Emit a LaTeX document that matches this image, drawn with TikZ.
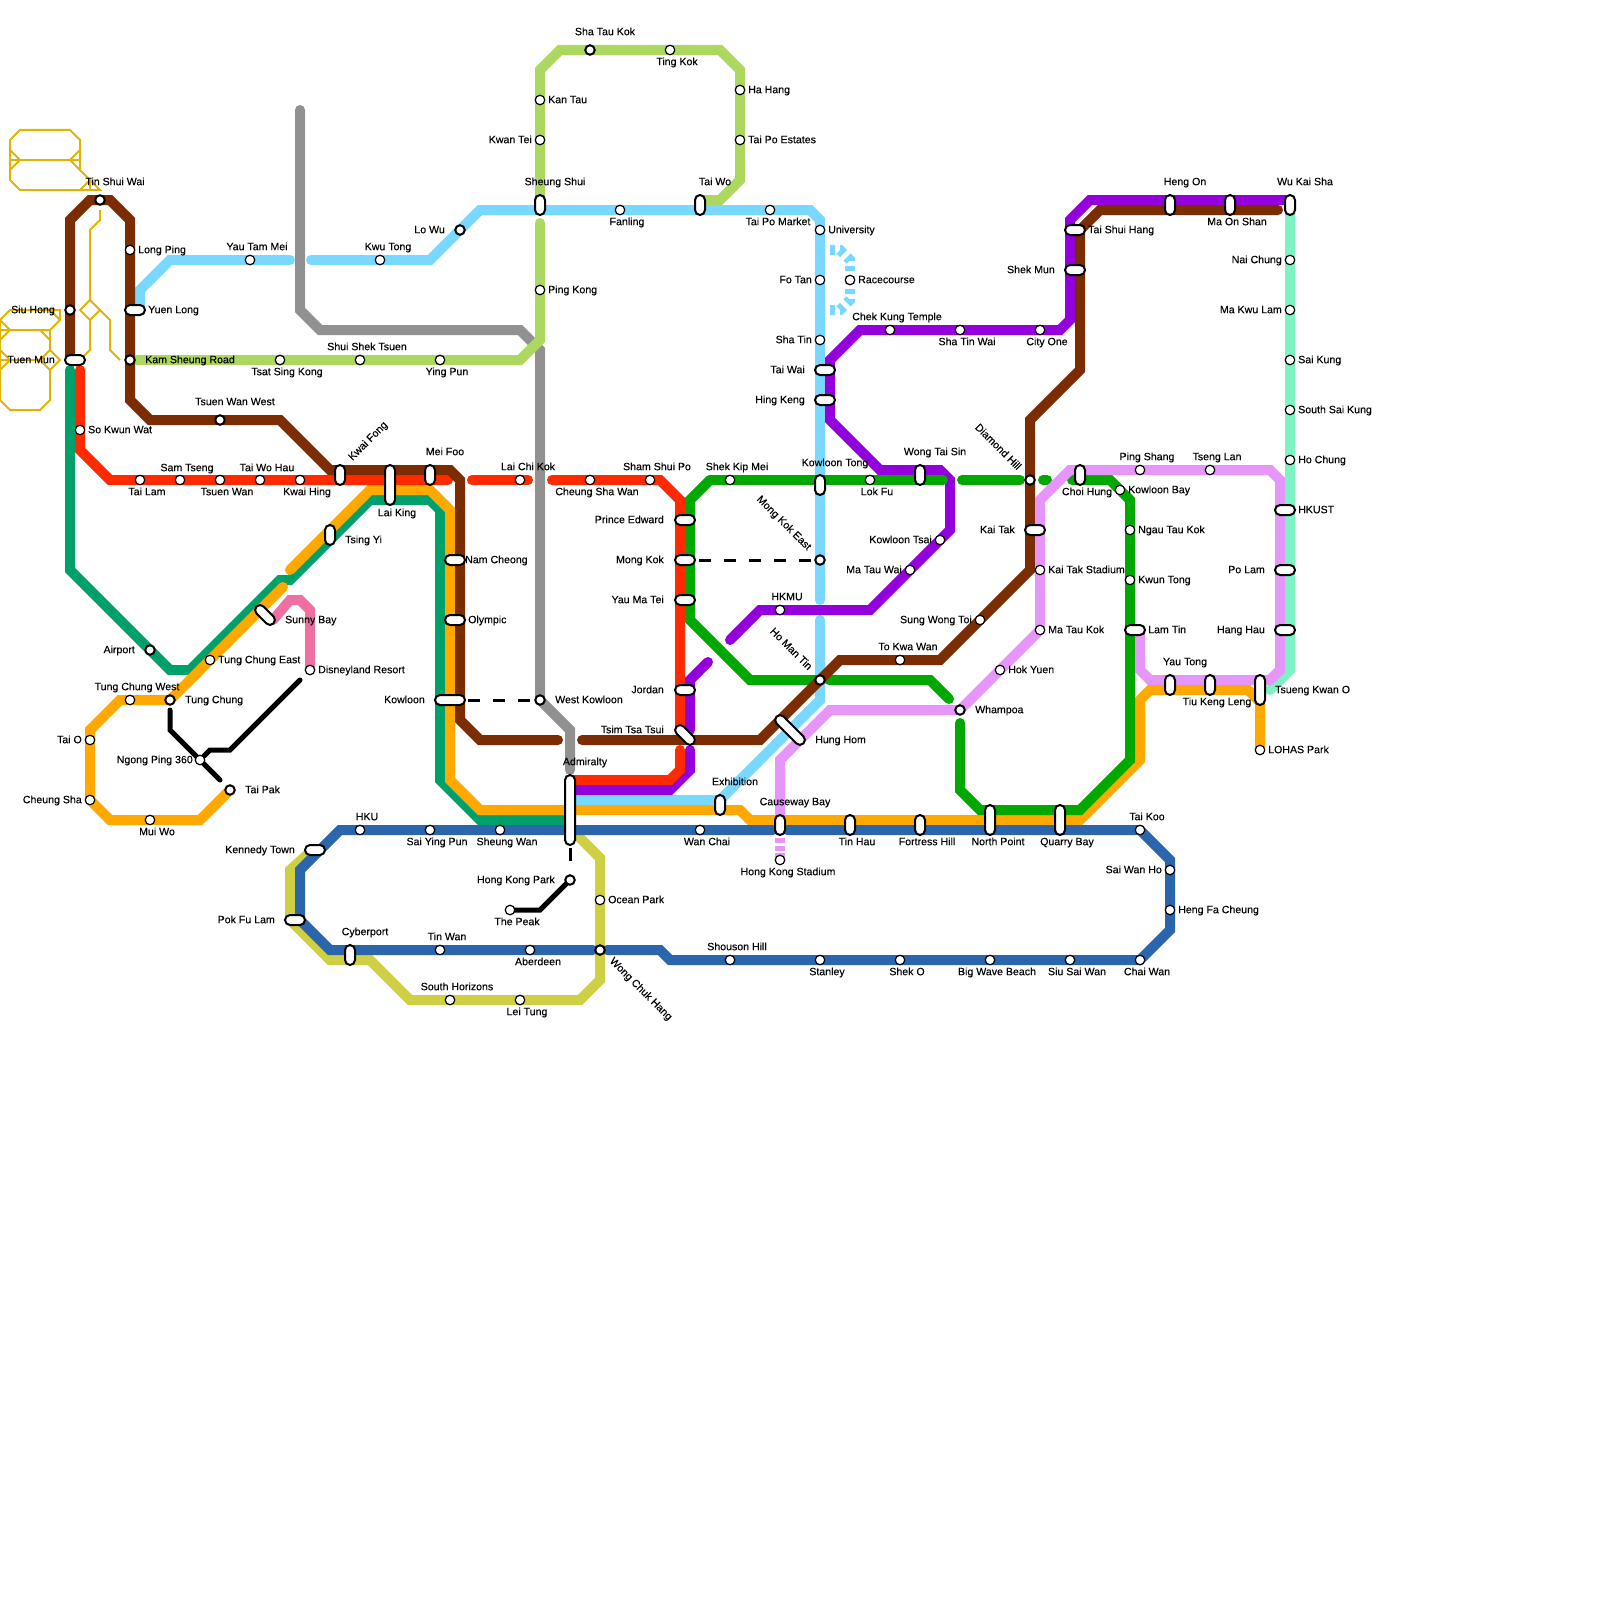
\documentclass[tikz,border=0pt]{standalone}
\usepackage{fontspec}
\usepackage{xcolor}
\usepackage{tikz}
\setmainfont[FakeBold=0.15]{Liberation Sans}
\definecolor{rust}{HTML}{7B2C00}
\definecolor{scarlet}{HTML}{FF2A00}
\definecolor{jade}{HTML}{00A06B}
\definecolor{amber}{HTML}{FFA800}
\definecolor{skyline}{HTML}{78D8FF}
\definecolor{lime}{HTML}{ADD860}
\definecolor{slate}{HTML}{919191}
\definecolor{violet}{HTML}{9400DB}
\definecolor{emerald}{HTML}{00A800}
\definecolor{lilac}{HTML}{E695F8}
\definecolor{mint}{HTML}{7DF3C3}
\definecolor{cobalt}{HTML}{2B65AB}
\definecolor{mustard}{HTML}{CFCF44}
\definecolor{rose}{HTML}{EE70A0}
\definecolor{gold}{HTML}{E0B400}
\tikzset{
  track/.style={line width=10,line cap=round,line join=miter},
  dotted track/.style={line width=10,line join=miter,dash pattern=on 5 off 5},
  thinwire/.style={gold,line width=2,line join=miter},
  cable/.style={black,line width=5,line cap=round,line join=miter},
  walk/.style={black,line width=3,dash pattern=on 12 off 13},
  stn/.style={circle,draw=black,fill=white,inner sep=0,minimum size=9.5,line width=1.2},
  hub/.style={circle,draw=black,fill=white,inner sep=0,minimum size=9.5,line width=2},
  pill/.style={rectangle,draw=black,fill=white,inner sep=0,minimum height=10,rounded corners=5,line width=2},
  lbl/.style={inner sep=0,text height=8.2,text depth=1.8,text=black}
}
\begin{document}
\begin{tikzpicture}[x=1pt,y=-1pt,font=\fontsize{10.6}{12}\selectfont]
\useasboundingbox (0,0) rectangle (1600,1600);
% thin gold outlines
\draw[thinwire] (10,140)--(20,130)--(70,130)--(80,140)--(80,170)--(100,190)--(20,190)--(10,180)--cycle;
\draw[thinwire] (10,160)--(80,160) (10,150)--(20,160)--(10,170) (80,150)--(70,160)--(80,170) (80,190)--(90,180)--(90,190);
\draw[thinwire] (100,210)--(100,220)--(90,230)--(90,300)--(100,310)--(90,320)--(80,310)--(90,300);
\draw[thinwire] (90,320)--(90,350)--(83,357) (100,310)--(110,320)--(110,350)--(120,360);
\draw[thinwire] (0,320)--(10,310)--(60,310)--(60,320)--(50,330)--(0,330) (50,310)--(60,320);
\draw[thinwire] (0,320)--(0,400)--(10,410)--(40,410)--(50,400)--(50,370)--(60,360)--(50,350)--(40,360)--(50,370);
\draw[thinwire] (50,350)--(50,330)--(40,330) (50,340)--(40,330) (0,320)--(10,330)--(0,340) (0,350)--(10,360)--(0,370) (0,360)--(40,360);
% lines
\draw[track,slate] (300,110)--(300,310)--(320,330)--(520,330)--(540,350)--(540,700)--(570,730)--(570,770);
\draw[track,lime] (137,360)--(520,360)--(540,340)--(540,223);
\draw[track,lime] (540,205)--(540,70)--(560,50)--(720,50)--(740,70)--(740,180)--(720,200)--(700,200);
\draw[track,skyline] (140,305)--(140,290)--(170,260)--(290,260);
\draw[track,skyline] (311,260)--(430,260)--(480,210)--(810,210)--(820,220)--(820,600);
\draw[track,skyline] (820,620)--(820,700)--(720,800)--(570,800);
\draw[dotted track,skyline] (820,250)--(840,250)--(850,260)--(850,280);
\draw[dotted track,skyline] (820,310)--(840,310)--(850,300)--(850,280);
\draw[track,mint] (1290,210)--(1290,670)--(1270,690);
\draw[track,jade] (70,370)--(70,570)--(170,670)--(190,670)--(280,580)--(290,580)--(370,500)--(430,500)--(440,510)--(440,780)--(480,820)--(570,820);
\draw[track,amber] (230,790)--(200,820)--(110,820)--(90,800)--(90,730)--(120,700)--(170,700)--(283,587);
\draw[track,amber] (290,570)--(370,490)--(430,490)--(450,510)--(450,780)--(480,810)--(740,810)--(750,820)--(1080,820)--(1140,760)--(1140,700)--(1150,690)--(1248,690)--(1260,702)--(1260,750);
\draw[track,rose] (273,620)--(290,600)--(300,600)--(310,610)--(310,670);
\draw[track,violet] (1285,200)--(1090,200)--(1070,220)--(1070,320)--(1060,330)--(860,330)--(830,360)--(830,420)--(880,470)--(940,470)--(950,480)--(950,530)--(870,610)--(760,610)--(730,640);
\draw[track,violet] (708,662)--(690,680)--(690,730);
\draw[track,violet] (690,750)--(690,770)--(670,790)--(570,790);
\draw[track,emerald] (710,480)--(690,500)--(690,620)--(750,680)--(815,680);
\draw[track,emerald] (710,480)--(943,480);
\draw[track,emerald] (829,680)--(930,680)--(949,699);
\draw[track,emerald] (962,480)--(1020,480);
\draw[track,emerald] (1043,480)--(1047,480);
\draw[track,emerald] (1072,480)--(1110,480)--(1130,500)--(1130,760)--(1080,810)--(980,810)--(960,790)--(960,723);
\draw[track,scarlet] (80,370)--(80,450)--(110,480)--(448,480);
\draw[track,scarlet] (472,480)--(528,480);
\draw[track,scarlet] (552,480)--(660,480)--(680,500)--(680,730);
\draw[track,scarlet] (680,750)--(680,770)--(670,780)--(570,780);
\draw[track,rust] (70,360)--(70,220)--(90,200)--(110,200)--(130,220)--(130,400)--(150,420)--(280,420)--(330,470)--(450,470)--(460,480)--(460,720)--(480,740)--(558,740);
\draw[track,rust] (582,740)--(760,740)--(840,660)--(940,660)--(1030,570)--(1030,420)--(1080,370)--(1080,230)--(1100,210)--(1278,210);
\draw[track,lilac] (780,820)--(780,760)--(830,710)--(960,710)--(1040,630)--(1040,500)--(1070,470)--(1270,470)--(1280,480)--(1280,670)--(1270,680)--(1150,680)--(1140,670)--(1140,630);
\draw[line width=10,lilac,dash pattern=on 5 off 2.5] (780,838)--(780,858);
\draw[track,mustard] (310,852)--(290,870)--(290,920)--(330,960)--(370,960)--(410,1000)--(580,1000)--(600,980)--(600,858)--(578,836);
\draw[track,cobalt] (773,830)--(340,830)--(300,870)--(300,920)--(330,950)--(593,950);
\draw[track,cobalt] (607,950)--(660,950)--(670,960)--(1140,960)--(1170,930)--(1170,860)--(1140,830)--(787,830);
% cable cars and walking links
\draw[cable] (170,710)--(170,730)--(220,780);
\draw[cable] (204,756)--(210,750)--(230,750)--(300,680);
\draw[cable] (510,910)--(540,910)--(570,880);
\draw[black,line width=3] (570,848)--(570,861);
\coordinate (mongkokend) at (699,560);
\coordinate (mkeast) at (815,560);
\coordinate (kowloonend) at (468,700);
\coordinate (wkowloon) at (535,700);
\draw[walk] (mongkokend)--(mkeast);
\draw[walk] (kowloonend)--(wkowloon);
% interchanges: x/y/length/turn/anchor/label x/label y/text
\foreach \sx/\sy/\l/\r/\a/\lx/\ly/\t [count=\i] in {
  75/360/20/0/east/55/360/Tuen Mun,
  135/310/20/0/west/148/310/Yuen Long,
  315/850/20/0/east/295/850/Kennedy Town,
  295/920/20/0/east/275/920/Pok Fu Lam,
  450/700/30/0/east/425/700/Kowloon,
  455/560/20/0/west/465/560/Nam Cheong,
  455/620/20/0/west/468/620/Olympic,
  685/520/20/0/east/664/520/Prince Edward,
  685/560/20/0/east/664/560/Mong Kok,
  685/600/20/0/east/664/600/Yau Ma Tei,
  685/690/20/0/east/664/690/Jordan,
  825/370/20/0/east/805/370/Tai Wai,
  825/400/20/0/east/805/400/Hing Keng,
  1035/530/20/0/east/1015/530/Kai Tak,
  1075/230/20/0/west/1088/230/Tai Shui Hang,
  1075/270/20/0/east/1055/270/Shek Mun,
  1285/510/20/0/west/1298/510/HKUST,
  1285/570/20/0/east/1265/570/Po Lam,
  1285/630/20/0/east/1265/630/Hang Hau,
  1135/630/20/0/west/1148/630/Lam Tin,
  540/205/20/90/center/555/182/Sheung Shui,
  700/205/20/90/center/715/182/Tai Wo,
  340/475/20/90/center/368/441/{},
  390/485/40/90/center/397/513/Lai King,
  430/475/20/90/center/445/452/Mei Foo,
  330/535/20/90/west/345/540/Tsing Yi,
  570/810/70/90/center/585/762/Admiralty,
  720/805/20/90/center/735/782/Exhibition,
  780/825/20/90/center/795/802/Causeway Bay,
  850/825/20/90/center/857/842/Tin Hau,
  920/825/20/90/center/927/842/Fortress Hill,
  990/820/30/90/center/998/842/North Point,
  1060/820/30/90/center/1067/842/Quarry Bay,
  820/485/20/90/center/835/463/Kowloon Tong,
  920/475/20/90/center/935/452/Wong Tai Sin,
  1080/475/20/90/center/1087/492/Choi Hung,
  1170/205/20/90/center/1185/182/Heng On,
  1230/205/20/90/center/1237/222/Ma On Shan,
  1290/205/20/90/center/1305/182/Wu Kai Sha,
  1170/685/20/90/center/1185/662/Yau Tong,
  1210/685/20/90/center/1217/702/Tiu Keng Leng,
  1260/690/30/90/west/1275/690/Tsueng Kwan O,
  350/955/20/90/center/365/932/Cyberport,
  265/615/24/-45/west/285/620/Sunny Bay,
  685/735/24/-45/east/664/730/Tsim Tsa Tsui,
  790/730/38/-45/west/815/740/Hung Hom}
  {\node[pill,minimum width=\l,rotate=\r] (pl\i) at (\sx,\sy) {};
   \node[lbl,anchor=\a] (pt\i) at (\lx,\ly) {\t};}
% hubs
\foreach \sx/\sy/\a/\lx/\ly/\t [count=\i] in {
  100/200/center/115/182/Tin Shui Wai,
  70/310/east/55/310/Siu Hong,
  130/360/west/145/360/Kam Sheung Road,
  220/420/center/235/402/Tsuen Wan West,
  150/650/east/135/650/Airport,
  170/700/west/185/700/Tung Chung,
  230/790/west/245/790/Tai Pak,
  540/700/west/555/700/West Kowloon,
  570/880/east/555/880/Hong Kong Park,
  590/50/center/605/32/Sha Tau Kok,
  460/230/east/445/230/Lo Wu,
  960/710/west/975/710/Whampoa}
  {\node[hub] (hb\i) at (\sx,\sy) {};
   \node[lbl,anchor=\a] (ht\i) at (\lx,\ly) {\t};}
\node[hub] (mkeaststn) at (820,560) {};
\node[hub] (homantin) at (820,680) {};
\node[hub] (diamondhill) at (1030,480) {};
\node[hub] (wongchuk) at (600,950) {};
\node[lbl,rotate=45] (kwaifonglbl) at (368,441) {Kwai Fong};
\node[lbl,rotate=-45] (mkeastlbl) at (784,523) {Mong Kok East};
\node[lbl,rotate=-45] (homantinlbl) at (791,649) {Ho Man Tin};
\node[lbl,rotate=-45] (diamondlbl) at (998,447) {Diamond Hill};
\node[lbl,rotate=-45] (wongchuklbl) at (641,989) {Wong Chuk Hang};
% plain stations
\foreach \sx/\sy/\a/\lx/\ly/\t [count=\i] in {
  130/250/west/138/250/Long Ping,
  80/430/west/88/430/So Kwun Wat,
  140/480/center/147/492/Tai Lam,
  180/480/center/187/468/Sam Tseng,
  220/480/center/227/492/Tsuen Wan,
  260/480/center/267/468/Tai Wo Hau,
  300/480/center/307/492/Kwai Hing,
  280/360/center/287/372/Tsat Sing Kong,
  360/360/center/367/347/Shui Shek Tsuen,
  440/360/center/447/372/Ying Pun,
  250/260/center/257/247/Yau Tam Mei,
  380/260/center/388/247/Kwu Tong,
  210/660/west/218/660/Tung Chung East,
  310/670/west/318/670/Disneyland Resort,
  130/700/center/137/687/Tung Chung West,
  90/740/east/82/740/Tai O,
  90/800/east/82/800/Cheung Sha,
  150/820/center/157/832/Mui Wo,
  200/760/east/193/760/Ngong Ping 360,
  360/830/center/367/817/HKU,
  430/830/center/437/842/Sai Ying Pun,
  500/830/center/507/842/Sheung Wan,
  700/830/center/707/842/Wan Chai,
  780/860/center/788/872/Hong Kong Stadium,
  520/480/center/528/467/Lai Chi Kok,
  590/480/center/597/492/Cheung Sha Wan,
  650/480/center/657/467/Sham Shui Po,
  730/480/center/737/467/Shek Kip Mei,
  870/480/center/877/492/Lok Fu,
  780/610/center/787/597/HKMU,
  900/660/center/908/647/To Kwa Wan,
  980/620/east/972/620/Sung Wong Toi,
  1000/670/west/1008/670/Hok Yuen,
  1040/630/west/1048/630/Ma Tau Kok,
  1040/570/west/1048/570/Kai Tak Stadium,
  940/540/east/932/540/Kowloon Tsai,
  910/570/east/902/570/Ma Tau Wai,
  890/330/center/897/317/Chek Kung Temple,
  960/330/center/967/342/Sha Tin Wai,
  1040/330/center/1047/342/City One,
  820/230/west/828/230/University,
  820/280/east/812/280/Fo Tan,
  850/280/west/858/280/Racecourse,
  820/340/east/812/340/Sha Tin,
  770/210/center/778/222/Tai Po Market,
  620/210/center/627/222/Fanling,
  670/50/center/677/62/Ting Kok,
  540/100/west/548/100/Kan Tau,
  540/140/east/532/140/Kwan Tei,
  540/290/west/548/290/Ping Kong,
  740/90/west/748/90/Ha Hang,
  740/140/west/748/140/Tai Po Estates,
  1140/470/center/1147/457/Ping Shang,
  1210/470/center/1217/457/Tseng Lan,
  1120/490/west/1128/490/Kowloon Bay,
  1130/530/west/1138/530/Ngau Tau Kok,
  1130/580/west/1138/580/Kwun Tong,
  1290/260/east/1282/260/Nai Chung,
  1290/310/east/1282/310/Ma Kwu Lam,
  1290/360/west/1298/360/Sai Kung,
  1290/410/west/1298/410/South Sai Kung,
  1290/460/west/1298/460/Ho Chung,
  1260/750/west/1268/750/LOHAS Park,
  1140/830/center/1147/817/Tai Koo,
  1170/870/east/1162/870/Sai Wan Ho,
  1170/910/west/1178/910/Heng Fa Cheung,
  1140/960/center/1147/972/Chai Wan,
  1070/960/center/1077/972/Siu Sai Wan,
  990/960/center/997/972/Big Wave Beach,
  900/960/center/907/972/Shek O,
  820/960/center/827/972/Stanley,
  730/960/center/737/947/Shouson Hill,
  600/900/west/608/900/Ocean Park,
  530/950/center/538/962/Aberdeen,
  440/950/center/447/937/Tin Wan,
  450/1000/center/457/987/South Horizons,
  520/1000/center/527/1012/Lei Tung,
  510/910/center/517/922/The Peak}
  {\node[stn] (st\i) at (\sx,\sy) {};
   \node[lbl,anchor=\a] (tx\i) at (\lx,\ly) {\t};}
\end{tikzpicture}
\end{document}
